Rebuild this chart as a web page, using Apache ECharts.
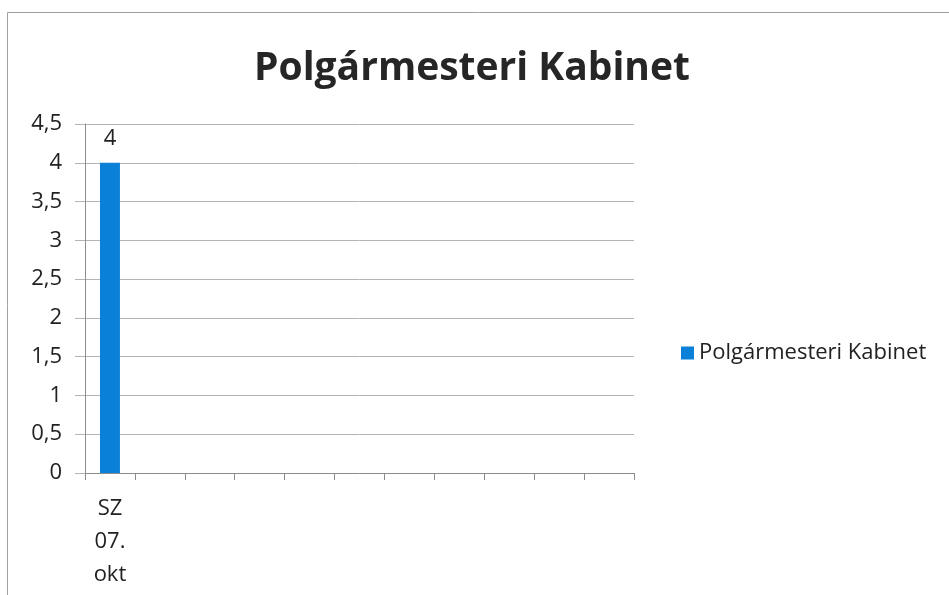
<!DOCTYPE html>
<html><head><meta charset="utf-8">
<script src="https://cdn.jsdelivr.net/npm/echarts@6/dist/echarts.min.js"></script>
<style>html,body{margin:0;padding:0;background:#fff}#c{width:949px;height:595px}</style>
</head><body><div id="c"></div>
<script>
const chartTitle = "Polgármesteri Kabinet";
const seriesName = "Polgármesteri Kabinet";
const categories = ["SZ\n07.\nokt", "", "", "", "", "", "", "", "", "", ""];
const values = [4, null, null, null, null, null, null, null, null, null, null];
const yMin = 0, yMax = 4.5, yStep = 0.5;

const font = "'Open Sans', 'Noto Sans', sans-serif";
const chart = echarts.init(document.getElementById('c'));
chart.setOption({
  backgroundColor: '#fff',
  animation: false,
  graphic: [{
    type: 'rect', shape: {x: 7.5, y: 12.5, width: 960, height: 600},
    style: {fill: 'none', stroke: '#a0a0a0', lineWidth: 1}, silent: true, z: -1
  }],
  title: {
    text: chartTitle, left: 467, top: 44, textAlign: 'center',
    textStyle: {fontFamily: font, fontWeight: 'bold', fontSize: 39, color: '#262626'}
  },
  legend: {
    data: [seriesName], left: 676, top: 337, itemWidth: 13, itemHeight: 13, itemGap: 9,
    icon: 'rect',
    textStyle: {fontFamily: font, fontSize: 22, color: '#222'}
  },
  grid: {left: 85, right: 315, top: 124, bottom: 122, containLabel: false},
  xAxis: {
    type: 'category', data: categories,
    axisLine: {lineStyle: {color: '#8c8c8c'}},
    axisTick: {show: true, length: 7, alignWithLabel: false, lineStyle: {color: '#8c8c8c'}},
    axisLabel: {interval: 0, fontFamily: font, fontSize: 22, color: '#222', lineHeight: 33, margin: 19}
  },
  yAxis: {
    type: 'value', min: yMin, max: yMax, interval: yStep,
    axisLine: {show: true, lineStyle: {color: '#8c8c8c'}},
    axisTick: {show: true, length: 10, inside: false, lineStyle: {color: '#b4b4b4'}},
    splitLine: {lineStyle: {color: '#b4b4b4'}},
    axisLabel: {fontFamily: font, fontSize: 22, color: '#222', margin: 23,
      formatter: v => String(v).replace('.', ',')}
  },
  series: [{
    name: seriesName, type: 'bar', data: values, barWidth: '40%',
    itemStyle: {color: '#0a80d8'},
    label: {show: true, position: 'top', distance: 13, fontFamily: font, fontSize: 22, color: '#222'}
  }]
});
</script></body></html>
